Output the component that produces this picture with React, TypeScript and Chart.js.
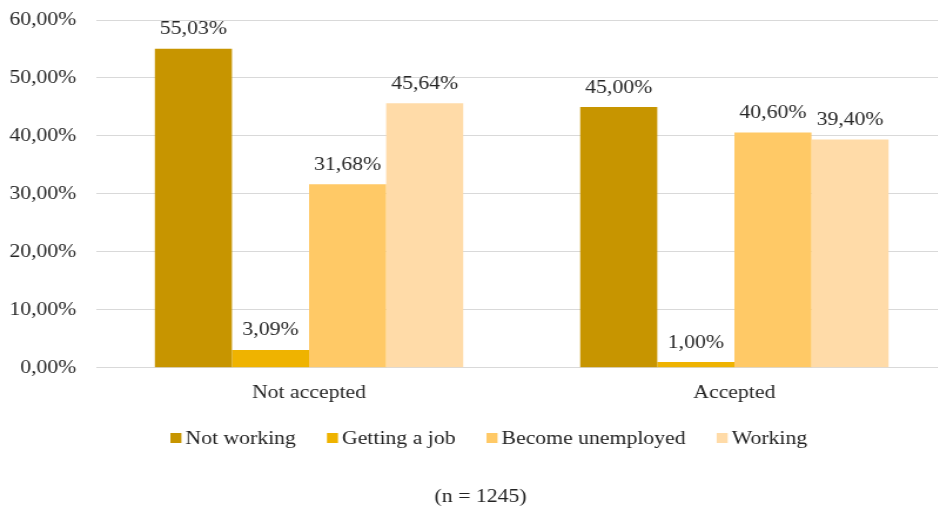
import React, { useEffect, useRef } from "react";
import { Chart, registerables } from "chart.js";

Chart.register(...registerables);

const categories = ["Not accepted", "Accepted"];
const seriesNames = ["Not working", "Getting a job", "Become unemployed", "Working"];
const notWorking = [55.03, 45.0];
const gettingAJob = [3.09, 1.0];
const becomeUnemployed = [31.68, 40.6];
const working = [45.64, 39.4];
const seriesColors = ["#C79500", "#EFB300", "#FFC966", "#FFDBA8"];
const yMax = 60;
const yStep = 10;
const footnote = "(n = 1245)";

const FONT = "'Liberation Serif', 'Times New Roman', serif";
const FONT_SIZE = 18.5;
const TEXT_COLOR = "#222222";
const LABEL_COLOR = "#262626";

// The chart is laid out on a narrower canvas and widened with a CSS scaleX,
// which gives the wide serif lettering of the figure. The plot runs a little
// past the right edge of the frame, where it is clipped.
const OUT_W = 938;
const OUT_H = 514;
const STRETCH = 1.175;
const CANVAS_W = 806;

const fmt = (v: number) => v.toFixed(2).replace(".", ",") + "%";

// Value printed above every bar.
const valueLabels = {
  id: "valueLabels",
  afterDatasetsDraw(chart: any) {
    const ctx = chart.ctx;
    ctx.save();
    ctx.font = `${FONT_SIZE}px ${FONT}`;
    ctx.fillStyle = LABEL_COLOR;
    ctx.textAlign = "center";
    ctx.textBaseline = "bottom";
    chart.data.datasets.forEach((ds: any, i: number) => {
      const meta = chart.getDatasetMeta(i);
      meta.data.forEach((bar: any, j: number) => {
        ctx.fillText(fmt(ds.data[j]), bar.x, bar.y - 10);
      });
    });
    ctx.restore();
  },
};

// Legend row and sample-size note under the axis.
const LEGEND_Y = 438;
const LEGEND_CX = 416;
const NOTE_Y = 497;
const NOTE_CX = 409;
const BOX_W = 9.4;
const BOX_H = 10;
const BOX_GAP = 3.4;
const ITEM_GAP = 26.4;

const legendAndNote = {
  id: "legendAndNote",
  afterDraw(chart: any) {
    const ctx = chart.ctx;
    ctx.save();
    ctx.font = `${FONT_SIZE}px ${FONT}`;
    ctx.textBaseline = "middle";
    ctx.textAlign = "left";
    const items = chart.data.datasets.map((ds: any) => ({
      text: ds.label as string,
      color: ds.backgroundColor as string,
      w: ctx.measureText(ds.label).width,
    }));
    const total =
      items.reduce((s: number, it: any) => s + BOX_W + BOX_GAP + it.w, 0) +
      ITEM_GAP * (items.length - 1);
    let x = LEGEND_CX - total / 2;
    items.forEach((it: any) => {
      ctx.fillStyle = it.color;
      ctx.fillRect(x, LEGEND_Y - BOX_H / 2, BOX_W, BOX_H);
      ctx.fillStyle = TEXT_COLOR;
      ctx.fillText(it.text, x + BOX_W + BOX_GAP, LEGEND_Y + 1);
      x += BOX_W + BOX_GAP + it.w + ITEM_GAP;
    });
    ctx.textAlign = "center";
    ctx.fillText(footnote, NOTE_CX, NOTE_Y);
    ctx.restore();
  },
};

export default function App() {
  const ref = useRef<HTMLCanvasElement | null>(null);

  useEffect(() => {
    if (!ref.current) return;
    const values = [notWorking, gettingAJob, becomeUnemployed, working];
    const chart = new Chart(ref.current, {
      type: "bar",
      data: {
        labels: categories,
        datasets: seriesNames.map((name, i) => ({
          label: name,
          data: values[i],
          backgroundColor: seriesColors[i],
          borderWidth: 0,
          categoryPercentage: 0.725,
          barPercentage: 1,
        })),
      },
      options: {
        animation: false,
        responsive: false,
        maintainAspectRatio: false,
        devicePixelRatio: 1,
        layout: { padding: { top: 20, left: 0, right: 0, bottom: 104 } },
        scales: {
          x: {
            grid: { display: false },
            border: { display: true, color: "#D9D9D9" },
            ticks: { color: LABEL_COLOR, font: { family: FONT, size: FONT_SIZE }, padding: 6 },
            afterFit: (scale: any) => {
              scale.paddingLeft = 0;
              scale.paddingRight = 0;
            },
          },
          y: {
            min: 0,
            max: yMax,
            afterFit: (scale: any) => {
              scale.width = 82;
              scale.paddingTop = 0;
              scale.paddingBottom = 0;
            },
            ticks: {
              stepSize: yStep,
              color: LABEL_COLOR,
              font: { family: FONT, size: FONT_SIZE },
              padding: 17,
              callback: (v: any) => fmt(Number(v)),
            },
            grid: { color: "#D9D9D9", drawTicks: false },
            border: { display: false },
          },
        },
        plugins: {
          legend: { display: false },
          title: { display: false },
          tooltip: { enabled: false },
        },
      },
      plugins: [valueLabels, legendAndNote],
    });
    return () => chart.destroy();
  }, []);

  return (
    <div
      style={{
        position: "fixed",
        left: 0,
        top: 0,
        width: OUT_W,
        height: OUT_H,
        background: "#fff",
        overflow: "hidden",
      }}
    >
      <canvas
        ref={ref}
        width={CANVAS_W}
        height={OUT_H}
        style={{
          width: CANVAS_W,
          height: OUT_H,
          display: "block",
          transform: `scaleX(${STRETCH})`,
          transformOrigin: "0 0",
        }}
      />
    </div>
  );
}
